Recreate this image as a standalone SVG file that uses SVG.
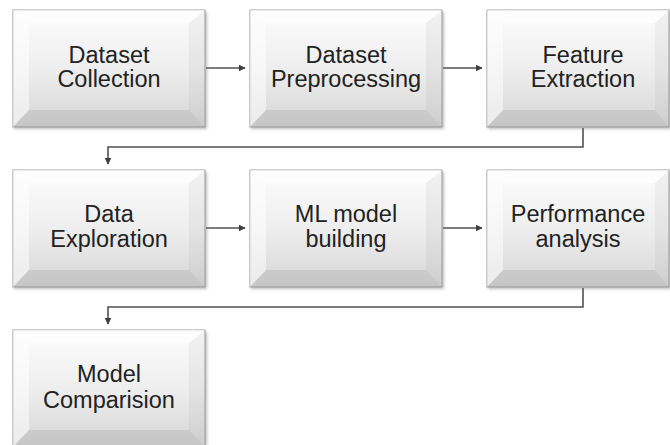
<svg xmlns="http://www.w3.org/2000/svg" width="670" height="445" viewBox="0 0 670 445">
<defs>
  <linearGradient id="face" x1="0" y1="0" x2="0" y2="1">
    <stop offset="0" stop-color="#fcfcfc"/>
    <stop offset="0.5" stop-color="#eeeeee"/>
    <stop offset="1" stop-color="#d6d6d6"/>
  </linearGradient>
  <filter id="sh" x="-10%" y="-10%" width="120%" height="130%">
    <feGaussianBlur stdDeviation="1.5"/>
  </filter>
  <marker id="arr" viewBox="0 0 10 10" refX="9" refY="5" markerWidth="7" markerHeight="7" markerUnits="userSpaceOnUse" orient="auto">
    <path d="M0,0 L10,5 L0,10 Z" fill="#404040"/>
  </marker>
</defs>
<style>
  .shadow { fill: #7a7a7a; opacity: 0.5; filter: url(#sh); }
  .base { fill: url(#face); stroke: #a0a0a0; stroke-width: 1; }
  .bt { fill: #ffffff; opacity: 0.6; }
  .bl { fill: #ffffff; opacity: 0.5; }
  .br { fill: #000000; opacity: 0.04; }
  .bb { fill: #000000; opacity: 0.08; }
  .lbl { font-family: "Liberation Sans", Arial, sans-serif; font-size: 23.5px; fill: #222222; text-anchor: middle; }
  .conn { fill: none; stroke: #505050; stroke-width: 1.6; }
</style>

<g id="connectors">
  <line class="conn" x1="206" y1="68" x2="245" y2="68" marker-end="url(#arr)"/>
  <line class="conn" x1="443" y1="68" x2="482" y2="68" marker-end="url(#arr)"/>
  <polyline class="conn" points="583,128 583,147 108,147 108,164" marker-end="url(#arr)"/>
  <line class="conn" x1="206" y1="228" x2="245" y2="228" marker-end="url(#arr)"/>
  <line class="conn" x1="443" y1="228" x2="482" y2="228" marker-end="url(#arr)"/>
  <polyline class="conn" points="583,288 583,307 108,307 108,324" marker-end="url(#arr)"/>
</g>

<g id="n1">
  <rect class="shadow" x="14" y="12" width="193" height="117"/>
  <rect class="base" x="13" y="10" width="192" height="117"/>
  <polygon class="bt" points="13,10 205,10 189,23 29,23"/>
  <polygon class="bl" points="13,10 29,23 29,110 13,127"/>
  <polygon class="br" points="205,10 205,127 189,110 189,23"/>
  <polygon class="bb" points="13,127 205,127 189,110 29,110"/>
  <text class="lbl" x="109" y="63">Dataset</text>
  <text class="lbl" x="109" y="87">Collection</text>
</g>

<g id="n2">
  <rect class="shadow" x="251" y="12" width="193" height="117"/>
  <rect class="base" x="250" y="10" width="192" height="117"/>
  <polygon class="bt" points="250,10 442,10 426,23 266,23"/>
  <polygon class="bl" points="250,10 266,23 266,110 250,127"/>
  <polygon class="br" points="442,10 442,127 426,110 426,23"/>
  <polygon class="bb" points="250,127 442,127 426,110 266,110"/>
  <text class="lbl" x="346" y="63">Dataset</text>
  <text class="lbl" x="346" y="87">Preprocessing</text>
</g>

<g id="n3">
  <rect class="shadow" x="488" y="12" width="183" height="117"/>
  <rect class="base" x="487" y="10" width="182" height="117"/>
  <polygon class="bt" points="487,10 669,10 655,23 503,23"/>
  <polygon class="bl" points="487,10 503,23 503,110 487,127"/>
  <polygon class="br" points="669,10 669,127 655,110 655,23"/>
  <polygon class="bb" points="487,127 669,127 655,110 503,110"/>
  <text class="lbl" x="583" y="63">Feature</text>
  <text class="lbl" x="583" y="87">Extraction</text>
</g>

<g id="n4">
  <rect class="shadow" x="14" y="172" width="193" height="117"/>
  <rect class="base" x="13" y="170" width="192" height="117"/>
  <polygon class="bt" points="13,170 205,170 189,183 29,183"/>
  <polygon class="bl" points="13,170 29,183 29,270 13,287"/>
  <polygon class="br" points="205,170 205,287 189,270 189,183"/>
  <polygon class="bb" points="13,287 205,287 189,270 29,270"/>
  <text class="lbl" x="109" y="222">Data</text>
  <text class="lbl" x="109" y="247">Exploration</text>
</g>

<g id="n5">
  <rect class="shadow" x="251" y="172" width="193" height="117"/>
  <rect class="base" x="250" y="170" width="192" height="117"/>
  <polygon class="bt" points="250,170 442,170 426,183 266,183"/>
  <polygon class="bl" points="250,170 266,183 266,270 250,287"/>
  <polygon class="br" points="442,170 442,287 426,270 426,183"/>
  <polygon class="bb" points="250,287 442,287 426,270 266,270"/>
  <text class="lbl" x="346" y="222">ML model</text>
  <text class="lbl" x="346" y="247">building</text>
</g>

<g id="n6">
  <rect class="shadow" x="488" y="172" width="183" height="117"/>
  <rect class="base" x="487" y="170" width="182" height="117"/>
  <polygon class="bt" points="487,170 669,170 655,183 503,183"/>
  <polygon class="bl" points="487,170 503,183 503,270 487,287"/>
  <polygon class="br" points="669,170 669,287 655,270 655,183"/>
  <polygon class="bb" points="487,287 669,287 655,270 503,270"/>
  <text class="lbl" x="578" y="222">Performance</text>
  <text class="lbl" x="578" y="247">analysis</text>
</g>

<g id="n7">
  <rect class="shadow" x="14" y="332" width="193" height="117"/>
  <rect class="base" x="13" y="330" width="192" height="117"/>
  <polygon class="bt" points="13,330 205,330 189,343 29,343"/>
  <polygon class="bl" points="13,330 29,343 29,430 13,447"/>
  <polygon class="br" points="205,330 205,447 189,430 189,343"/>
  <polygon class="bb" points="13,447 205,447 189,430 29,430"/>
  <text class="lbl" x="109" y="382">Model</text>
  <text class="lbl" x="109" y="408">Comparision</text>
</g>
</svg>
